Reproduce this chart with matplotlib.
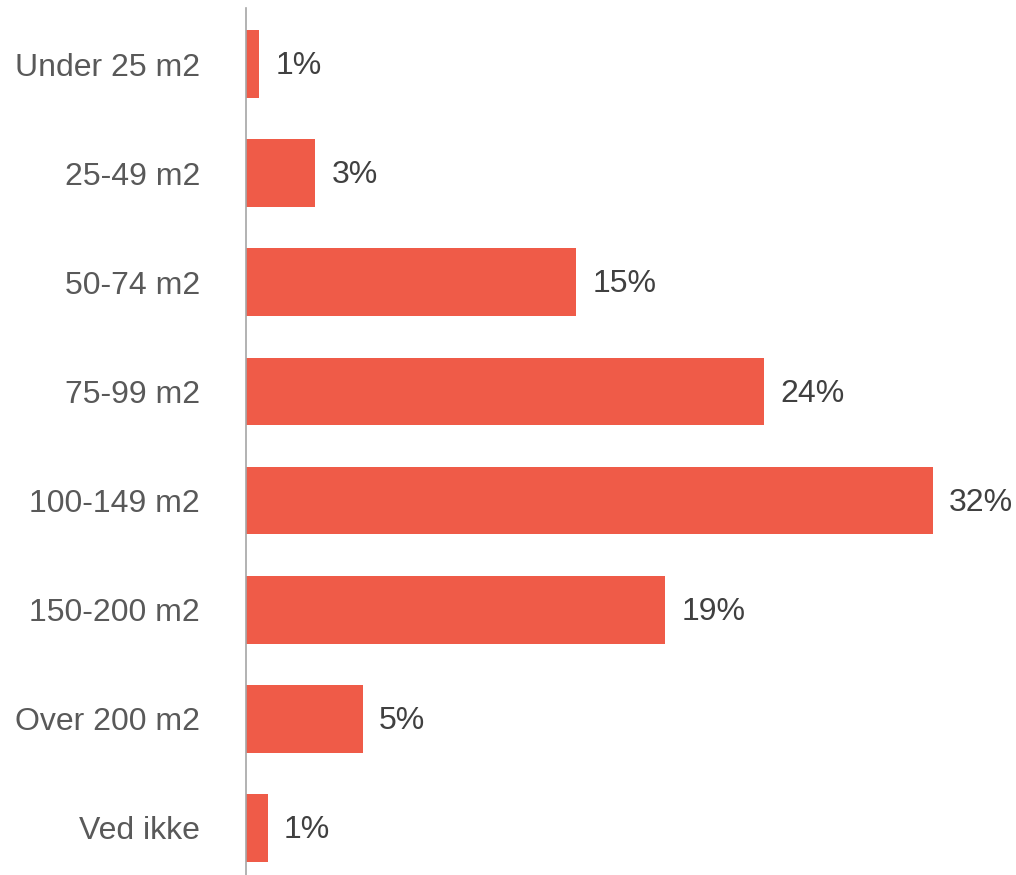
import matplotlib.pyplot as plt

categories = ["Under 25 m2", "25-49 m2", "50-74 m2", "75-99 m2",
              "100-149 m2", "150-200 m2", "Over 200 m2", "Ved ikke"]
values = [0.6, 3.2, 15.3, 24.0, 31.8, 19.4, 5.4, 1.0]
value_labels = ["1%", "3%", "15%", "24%", "32%", "19%", "5%", "1%"]

plt.rcParams['font.family'] = ['Liberation Sans', 'DejaVu Sans']

fig = plt.figure(figsize=(10.16, 8.75), dpi=100)
ax = fig.add_axes([246 / 1016, 0.0, 756 / 1016, 1 - 8 / 875])

pos = list(range(len(categories)))
ax.barh(pos, values, height=0.62, color="#EF5B48")

for p, v, lab in zip(pos, values, value_labels):
    ax.text(v + 0.75, p + 0.02, lab, va="center", ha="left", fontsize=23, color="#404040")

ax.set_xlim(0, 35)
ax.set_ylim(7 + 47 / 109.1, -56 / 109.1)
ax.set_yticks(pos)
ax.set_yticklabels(categories, fontsize=23, color="#595959")
ax.tick_params(axis="y", length=0, pad=33)
ax.set_xticks([])

for s in ["top", "right", "bottom"]:
    ax.spines[s].set_visible(False)
ax.spines["left"].set_color("#A6A6A6")
ax.spines["left"].set_linewidth(1.2)

fig.savefig("out.png", dpi=100)
